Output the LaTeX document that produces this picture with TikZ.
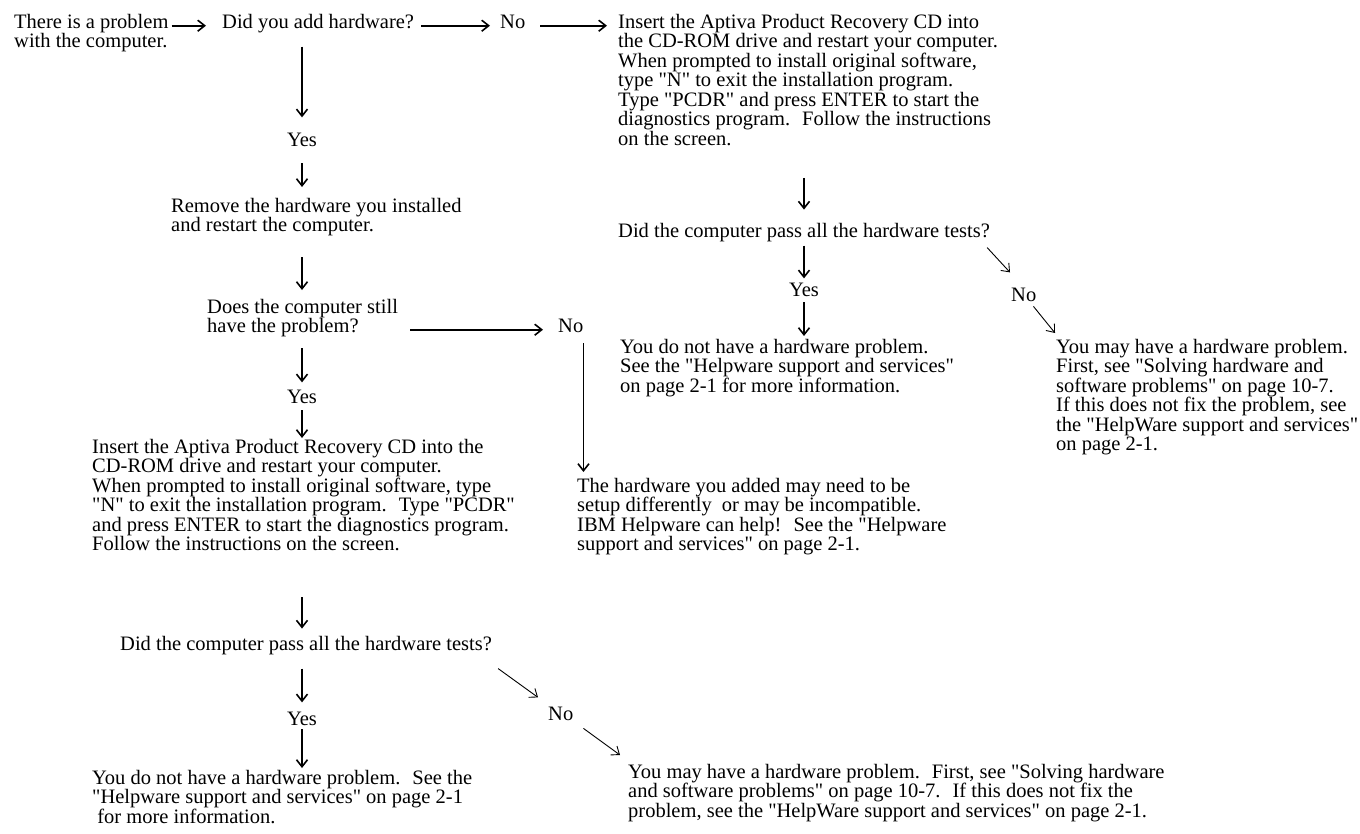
\documentclass[tikz,border=0pt]{standalone}
\usepackage{fontspec}
\setmainfont{Liberation Serif}[Ligatures=TeXOff]
\usetikzlibrary{arrows.meta}
\begin{document}
\begin{tikzpicture}[x=1pt, y=-1pt, >={Straight Barb[length=7pt,width=11pt]},
        txt/.style={inner sep=0pt, align=left, font=\fontsize{20.5}{19.5}\selectfont},
        arr/.style={->, line width=1.6pt},
        thinarr/.style={->, line width=0.9pt}]
        \useasboundingbox (0,0) rectangle (1360,833);
        % top row
        \node[txt, anchor=north west] (start) at (14,14) {There is a problem\\with the computer.};
        \node[txt, anchor=base west] (did) at (222,28) {Did you add hardware?};
        \node[txt, anchor=base west] (no1) at (500,28) {No};
        \node[txt, anchor=north west] (cdtop) at (618,14) {Insert the Aptiva Product Recovery CD into\\the CD-ROM drive and restart your computer.\\When prompted to install original software,\\type "N" to exit the installation program.\\Type "PCDR" and press ENTER to start the\\diagnostics program.~ Follow the instructions\\on the screen.};
        % left column
        \node[txt, anchor=base] (yes1) at (302,146) {Yes};
        \node[txt, anchor=north west] (remove) at (171,198) {Remove the hardware you installed\\and restart the computer.};
        \node[txt, anchor=north west] (still) at (207,299) {Does the computer still\\have the problem?};
        \node[txt, anchor=base west] (no2) at (558,332) {No};
        \node[txt, anchor=base] (yes2) at (302,403) {Yes};
        \node[txt, anchor=north west] (cdleft) at (92,439) {Insert the Aptiva Product Recovery CD into the\\CD-ROM drive and restart your computer.\\When prompted to install original software, type\\"N" to exit the installation program.~ Type "PCDR"\\and press ENTER to start the diagnostics program.\\Follow the instructions on the screen.};
        \node[txt, anchor=north west] (hwdiff) at (577,478) {The hardware you added may need to be\\setup differently~ or may be incompatible.\\IBM Helpware can help!~ See the "Helpware\\support and services" on page 2-1.};
        \node[txt, anchor=base west] (didpassL) at (120,650) {Did the computer pass all the hardware tests?};
        \node[txt, anchor=base] (yes3) at (302,725) {Yes};
        \node[txt, anchor=base west] (noL) at (548,720) {No};
        \node[txt, anchor=north west] (nohw) at (92,770) {You do not have a hardware problem.~ See the\\"Helpware support and services" on page 2-1\\\hspace{0.25em}for more information.};
        \node[txt, anchor=north west] (mayL) at (628,764) {You may have a hardware problem.~ First, see "Solving hardware\\and software problems" on page 10-7.~ If this does not fix the\\problem, see the "HelpWare support and services" on page 2-1.};
        % right column
        \node[txt, anchor=base west] (didpassR) at (618,237) {Did the computer pass all the hardware tests?};
        \node[txt, anchor=base] (yesR) at (804,296) {Yes};
        \node[txt, anchor=base west] (noR) at (1011,301) {No};
        \node[txt, anchor=north west] (youR) at (620,339) {You do not have a hardware problem.\\See the "Helpware support and services"\\on page 2-1 for more information.};
        \node[txt, anchor=north west] (mayR) at (1056,339) {You may have a hardware problem.\\First, see "Solving hardware and\\software problems" on page 10-7.\\If this does not fix the problem, see\\the "HelpWare support and services"\\on page 2-1.};
        % connectors
        \draw[arr, shorten <=3, shorten >=16] (start.east |- did.mid) -- (did.mid west);
        \draw[arr, shorten <=7, shorten >=10] (did.mid east) -- (no1.mid west);
        \draw[arr, shorten <=15, shorten >=11] (no1.mid east) -- (cdtop.west |- no1.mid);
        \draw[arr, shorten <=14, shorten >=15] (did.south -| yes1) -- (yes1.north);
        \draw[arr, shorten <=17, shorten >=11] (yes1.south) -- (yes1 |- remove.north);
        \draw[arr, shorten <=21, shorten >=9] (remove.south -| yes1) -- (yes1 |- still.north);
        \draw[arr, shorten <=12, shorten >=15] (still.east |- no2.mid) -- (no2.mid west);
        \draw[arr, shorten <=11, shorten >=7] (still.south -| yes2) -- (yes2.north);
        \draw[arr, shorten <=7, shorten >=1] (yes2.south) -- (yes2 |- cdleft.north);
        \draw[arr, shorten <=11, shorten >=6] (no2.south east) -- (no2.south east |- hwdiff.north);
        \draw[arr, shorten <=46, shorten >=7] (cdleft.south -| yes3) -- (yes3 |- didpassL.north);
        \draw[arr, shorten <=14, shorten >=9] (didpassL.south -| yes3) -- (yes3.north);
        \draw[arr, shorten <=4, shorten >=2] (yes3.south) -- (yes3 |- nohw.north);
        \draw[thinarr] ([shift={(6,14)}]didpassL.south east) -- ([shift={(-10,-9)}]noL.north west);
        \draw[thinarr] ([shift={(10,8)}]noL.south east) -- ([shift={(-8,-9)}]mayL.north west);
        \draw[arr, shorten <=32, shorten >=13] (cdtop.south -| yesR) -- (yesR |- didpassR.north);
        \draw[arr, shorten <=4, shorten >=4] (didpassR.south -| yesR) -- (yesR.north);
        \draw[arr, shorten <=6, shorten >=3] (yesR.south) -- (yesR |- youR.north);
        \draw[thinarr] ([shift={(-3,6)}]didpassR.south east) -- ([shift={(-1,-15)}]noR.north west);
        \draw[thinarr] ([shift={(-3,5)}]noR.south east) -- ([shift={(-1,-6)}]mayR.north west);
    \end{tikzpicture}
\end{document}
